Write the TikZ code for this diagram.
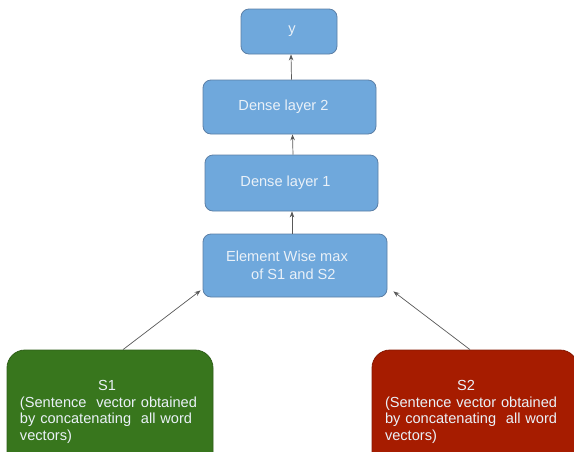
\documentclass[tikz,border=0pt]{standalone}
\usepackage{fontspec}
\setmainfont{Liberation Sans}
\usetikzlibrary{arrows.meta}
\definecolor{boxblue}{HTML}{6FA8DC}
\definecolor{boxblueline}{HTML}{5B7FA6}
\definecolor{boxgreen}{HTML}{38761D}
\definecolor{boxgreenline}{HTML}{2E5F18}
\definecolor{boxred}{HTML}{A61C00}
\definecolor{boxredline}{HTML}{861700}
\definecolor{txt}{HTML}{EAF1F8}
\definecolor{arr}{HTML}{595959}
\tikzset{
  x=1pt, y=-1pt,
  bluebox/.style={draw=boxblueline, line width=0.8pt, fill=boxblue, rounded corners=8pt,
    text=txt, font=\fontsize{14.6}{17.5}\selectfont, inner sep=0pt},
  bigbox/.style={line width=0.8pt, rounded corners=18pt, text=txt, inner sep=0pt,
    font=\fontsize{14.6}{16.7}\selectfont},
  conn/.style={draw=arr, line width=0.7pt, -{Stealth[length=6pt,width=4.5pt]}}
}
\begin{document}
\begin{tikzpicture}
\useasboundingbox (0,0) rectangle (574,451);
\clip (0,0) rectangle (574,451);
\fill[white] (0,0) rectangle (574,451);
\node[bluebox, minimum width=96pt, minimum height=45pt] (y) at (289,31.5) {y\hspace*{-6pt}};
\node[bluebox, minimum width=173pt, minimum height=54pt] (d2) at (289.5,107) {Dense layer 2\hspace*{12pt}};
\node[bluebox, minimum width=173pt, minimum height=56pt] (d1) at (291.5,183) {Dense layer 1\hspace*{12pt}};
\node[bluebox, minimum width=184pt, minimum height=63pt, align=left] (e) at (295,265.5)
  {Element Wise max\hspace*{16pt}\\\hspace*{25pt}of S1 and S2};
\node[bigbox, draw=boxgreenline, fill=boxgreen, minimum width=206pt, minimum height=124pt,
  text width=190pt] (s1) at (110,412)
  {\centering \hspace*{-6pt}S1\par\raggedright \hspace*{5pt}(Sentence\ \ vector obtained\\\hspace*{5pt}by concatenating\ \ all word\\\hspace*{5pt}vectors)\par};
\node[bigbox, draw=boxredline, fill=boxred, minimum width=206pt, minimum height=124pt,
  text width=190pt] (s2) at (475,412)
  {\centering \hspace*{-18pt}S2\par\raggedright \hspace*{5pt}(Sentence vector obtained\\\hspace*{5pt}by concatenating\ \ all word\\\hspace*{5pt}vectors)\par};
\draw[conn] ([xshift=2pt]d2.north) -- ([xshift=2pt]y.south);
\draw[conn] ([xshift=1.5pt]d1.north) -- ([xshift=3pt]d2.south);
\draw[conn] ([xshift=-3pt]e.north) -- ([xshift=0.5pt]d1.south);
\draw[conn] ([xshift=13pt]s1.north) -- ([xshift=-2pt,yshift=7pt]e.south west);
\draw[conn] ([xshift=-5pt]s2.north) -- ([xshift=6pt,yshift=6pt]e.south east);
\end{tikzpicture}
\end{document}
